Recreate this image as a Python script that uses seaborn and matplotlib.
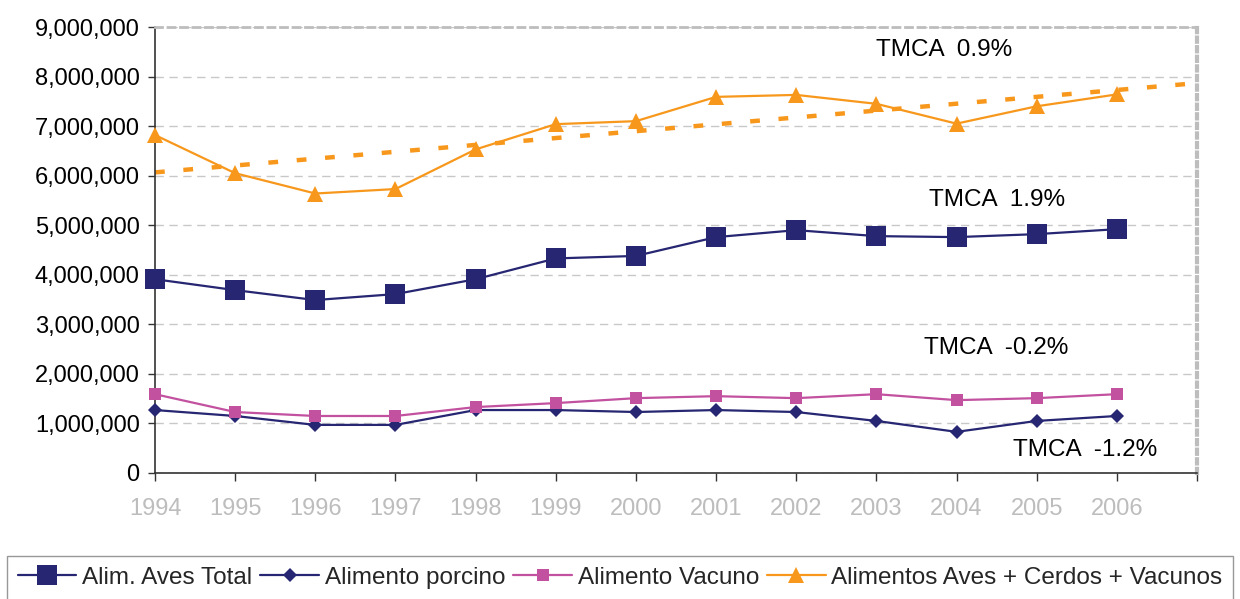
import numpy as np
import pandas as pd
import matplotlib
matplotlib.use("Agg")
import matplotlib.pyplot as plt
import seaborn as sns
from matplotlib.ticker import FuncFormatter

# ── data ──────────────────────────────────────────────────────────────────
years = [1994, 1995, 1996, 1997, 1998, 1999, 2000,
         2001, 2002, 2003, 2004, 2005, 2006]

aves_total = [3.91, 3.69, 3.49, 3.61, 3.91, 4.33, 4.38,
              4.76, 4.90, 4.78, 4.76, 4.82, 4.92]
porcino    = [1.27, 1.15, 0.97, 0.97, 1.27, 1.27, 1.23,
              1.27, 1.23, 1.05, 0.83, 1.05, 1.15]
vacuno     = [1.59, 1.23, 1.15, 1.15, 1.33, 1.41, 1.51,
              1.55, 1.51, 1.59, 1.47, 1.51, 1.59]
suma_total = [6.82, 6.05, 5.64, 5.73, 6.53, 7.04, 7.10,
              7.59, 7.63, 7.45, 7.05, 7.40, 7.64]

series_names = ["Alim. Aves Total", "Alimento porcino",
                "Alimento Vacuno", "Alimentos Aves + Cerdos + Vacunos"]

tmca_labels = ["TMCA  0.9%", "TMCA  1.9%", "TMCA  -0.2%", "TMCA  -1.2%"]
tmca_pos = [(2003.85, 8.53), (2004.5, 5.50), (2004.5, 2.52), (2005.6, 0.46)]

trend_years = [1994, 2007]   # Excel trendline, forecast one period forward

# ── style ─────────────────────────────────────────────────────────────────
sns.set_style("white")
plt.rcParams["font.family"] = ["Liberation Sans", "DejaVu Sans"]

NAVY   = "#262672"
PINK   = "#C2519F"
ORANGE = "#F7981D"
FS = 17

fig, ax = plt.subplots(figsize=(12.4, 5.99), dpi=100)
fig.subplots_adjust(left=0.125, right=0.9653, top=0.9549, bottom=0.2104)

df = pd.DataFrame({"year": years})
df[series_names[0]] = np.array(aves_total) * 1e6
df[series_names[1]] = np.array(porcino) * 1e6
df[series_names[2]] = np.array(vacuno) * 1e6
df[series_names[3]] = np.array(suma_total) * 1e6

# linear trend of the total series (drawn below the markers)
coef = np.polyfit(df["year"], df[series_names[3]], 1)
tx = np.array(trend_years)
sns.lineplot(x=tx, y=np.polyval(coef, tx), ax=ax, color=ORANGE,
             linewidth=3.2, linestyle=(0, (2.2, 4.2)), zorder=2)

styles = [
    dict(color=NAVY,   marker="s", markersize=14, linewidth=1.6),
    dict(color=NAVY,   marker="D", markersize=7,  linewidth=1.6),
    dict(color=PINK,   marker="s", markersize=8.5, linewidth=1.6),
    dict(color=ORANGE, marker="^", markersize=11, linewidth=1.6),
]
for name, st in zip(series_names, styles):
    sns.lineplot(data=df, x="year", y=name, ax=ax, label=name,
                 markeredgewidth=0, zorder=3, clip_on=False, **st)

# TMCA annotations
for txt, (x, y) in zip(tmca_labels, tmca_pos):
    ax.text(x, y * 1e6, txt, ha="center", va="center", fontsize=17.5,
            color="black")

# ── axes ──────────────────────────────────────────────────────────────────
ax.set_xlim(1994, 2007)
ax.set_ylim(0, 9e6)
ax.set_xticks(years + [2007])
ax.set_xticklabels([str(y) for y in years] + [""])
ax.set_yticks(np.arange(0, 9.5e6, 1e6))
ax.yaxis.set_major_formatter(FuncFormatter(lambda v, p: f"{v:,.0f}"))
ax.set_xlabel("")
ax.set_ylabel("")

ax.tick_params(axis="y", labelsize=FS, labelcolor="black", length=5,
               width=1, color="#333333", direction="out", left=True, pad=6)
ax.tick_params(axis="x", labelsize=FS, labelcolor="#BDBDBD", length=6,
               width=1, color="#333333", direction="out", bottom=True, pad=12)

ax.yaxis.grid(True, color="#C8C8C8", linestyle=(0, (6, 4)), linewidth=1)
ax.xaxis.grid(False)
ax.set_axisbelow(True)

for side in ["left", "bottom"]:
    ax.spines[side].set_color("#333333")
    ax.spines[side].set_linewidth(1.2)
ax.spines["top"].set_color("#BDBDBD")
ax.spines["top"].set_linewidth(2)
ax.spines["top"].set_linestyle((0, (2.5, 2)))
ax.spines["right"].set_color("#BDBDBD")
ax.spines["right"].set_linewidth(3)
ax.spines["right"].set_linestyle((0, (1, 1.3)))

# ── legend ────────────────────────────────────────────────────────────────
handles, labels = ax.get_legend_handles_labels()
ax.get_legend().remove()
leg = fig.legend(handles, labels, loc="upper left",
                 bbox_to_anchor=(7 / 1240, 1 - 556 / 599), ncol=4,
                 fontsize=17.5, frameon=True, fancybox=False,
                 handlelength=2.4, handletextpad=0.24, columnspacing=0.34,
                 borderpad=0.45, borderaxespad=0)
leg.get_frame().set_edgecolor("#7F7F7F")
leg.get_frame().set_linewidth(1)

fig.savefig("out.png", dpi=100)
